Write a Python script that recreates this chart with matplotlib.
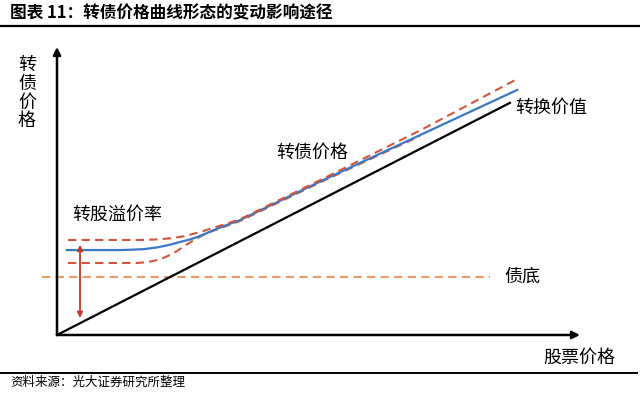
import matplotlib
matplotlib.use("Agg")
import matplotlib.pyplot as plt

plt.rcParams['font.family'] = ['Noto Sans CJK SC', 'DejaVu Sans']

# ---- data (conceptual units: stock price on x, bond price on y) ----
conv_x = [0, 86.6]
conv_y = [0, 80.6]

floor_x = [-2.9, 82.8]
floor_y = [20.1, 20.1]

bond_x = [1.9, 12.6, 16.5, 19.1, 21.5, 23.5, 25.3, 26.8, 28.4, 29.8, 32.0, 35.0, 50.9, 69.4, 88.0]
bond_y = [29.5, 29.5, 29.8, 30.4, 31.3, 32.3, 33.1, 34.0, 35.2, 36.3, 37.9, 39.9, 53.8, 69.4, 85.1]

upper_x = [2.1, 15.9, 19.5, 22.2, 24.3, 26.0, 27.8, 29.3, 32.0, 35.0, 50.9, 69.4, 88.3]
upper_y = [33.0, 33.0, 33.2, 33.7, 34.3, 35.1, 36.0, 36.9, 38.4, 40.2, 54.3, 71.0, 89.2]

lower_x = [2.1, 15.3, 17.3, 19.1, 20.4, 21.6, 22.9, 24.1, 25.5, 26.8, 28.0, 29.3, 35.0, 50.9, 69.4]
lower_y = [25.0, 25.0, 25.3, 26.0, 26.8, 27.8, 29.1, 30.6, 32.2, 33.6, 34.8, 35.8, 39.6, 53.5, 69.1]

premium_x = 4.4
premium_y = [5.9, 31.3]

title = "图表 11：转债价格曲线形态的变动影响途径"
source = "资料来源：光大证券研究所整理"
labels = {"转换价值": (87.6, 78.8), "转债价格": (48.8, 63.2),
          "转股溢价率": (11.5, 41.7), "债底": (85.5, 20.1)}
xlabel = "股票价格"
ylabel = "转\n债\n价\n格"

W, H = 640, 393
fig = plt.figure(figsize=(6.4, 3.93), dpi=100)
ox, oy = 57, 335
ax = fig.add_axes([ox / W, (H - oy) / H, (580 - ox) / W, (oy - 47) / H])
ax.set_xlim(0, 100)
ax.set_ylim(0, 100)
ax.axis('off')

red = '#D4553A'
ax.plot(floor_x, floor_y, color='#EE9A68', lw=1.5, dashes=(4, 2.5), clip_on=False, zorder=2)
ax.plot(conv_x, conv_y, color='black', lw=1.6, clip_on=False, zorder=3)
ax.plot(lower_x, lower_y, color=red, lw=1.5, dashes=(4, 2.5), clip_on=False, zorder=3,
        solid_joinstyle='round', dash_joinstyle='round')
ax.plot(bond_x, bond_y, color='#3A78C2', lw=1.6, clip_on=False, zorder=4,
        solid_joinstyle='round')
ax.plot(upper_x, upper_y, color=red, lw=1.5, dashes=(4, 2.5), clip_on=False, zorder=5,
        dash_joinstyle='round')

ax.annotate('', xy=(premium_x, premium_y[0]), xytext=(premium_x, premium_y[1]),
            arrowprops=dict(arrowstyle='<|-|>', color='#C0392B', lw=1.3,
                            mutation_scale=8, shrinkA=0, shrinkB=0), zorder=6)

# axes arrows
ax.annotate('', xy=(100, 0), xytext=(0, 0),
            arrowprops=dict(arrowstyle='-|>', color='black', lw=1.8,
                            mutation_scale=11, shrinkA=0, shrinkB=0), annotation_clip=False)
ax.annotate('', xy=(0, 100), xytext=(0, 0),
            arrowprops=dict(arrowstyle='-|>', color='black', lw=1.8,
                            mutation_scale=11, shrinkA=0, shrinkB=0), annotation_clip=False)

fs = 13
ax.text(*labels["转换价值"], "转换价值", fontsize=fs, ha='left', va='center')
ax.text(*labels["转债价格"], "转债价格", fontsize=fs, ha='center', va='center')
ax.text(*labels["转股溢价率"], "转股溢价率", fontsize=fs, ha='center', va='center')
ax.text(*labels["债底"], "债底", fontsize=fs, ha='left', va='center')

fig.text(543 / W, 1 - 358 / H, xlabel, fontsize=fs, ha='left', va='center')
fig.text(27 / W, 1 - 93 / H, ylabel, fontsize=fs, ha='center', va='center', linespacing=1.05)

fig.text(10 / W, 1 - 13 / H, title, fontsize=12, fontweight='bold', ha='left', va='center')
fig.add_artist(plt.Line2D([0, 1], [1 - 25.5 / H, 1 - 25.5 / H], color='black', lw=1.6))
fig.add_artist(plt.Line2D([0, 637 / W], [1 - 373 / H, 1 - 373 / H], color='black', lw=1.4))
fig.text(10 / W, 1 - 382.5 / H, source, fontsize=9, ha='left', va='center')

fig.savefig('out.png', dpi=100)
